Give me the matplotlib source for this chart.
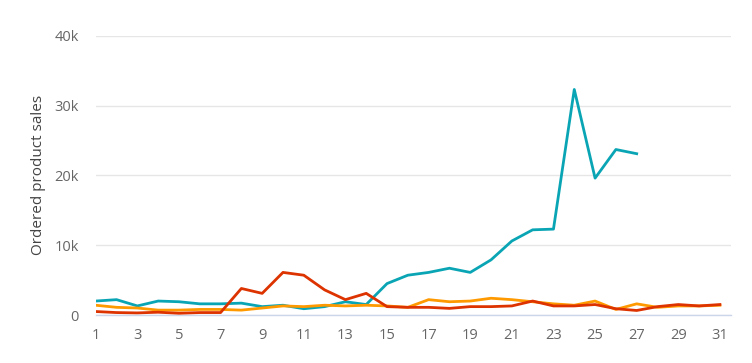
import matplotlib
matplotlib.use("Agg")
import matplotlib.pyplot as plt
from matplotlib.ticker import FuncFormatter, MultipleLocator

plt.rcParams['font.family'] = ['Open Sans', 'DejaVu Sans']

days = list(range(1, 32))
teal = [2.0, 2.2, 1.3, 2.0, 1.9, 1.6, 1.6, 1.7, 1.2, 1.4, 0.9, 1.2, 1.9, 1.5,
        4.5, 5.7, 6.1, 6.7, 6.1, 7.9, 10.6, 12.2, 12.3, 32.3, 19.6, 23.7, 23.1]
orange = [1.4, 1.1, 1.0, 0.7, 0.7, 0.8, 0.8, 0.7, 1.0, 1.3, 1.2, 1.4, 1.3, 1.4,
          1.3, 1.1, 2.2, 1.9, 2.0, 2.4, 2.2, 1.9, 1.6, 1.4, 2.0, 0.8, 1.6, 1.1,
          1.3, 1.3, 1.4]
red = [0.5, 0.35, 0.3, 0.4, 0.25, 0.35, 0.35, 3.8, 3.1, 6.1, 5.7, 3.6, 2.2, 3.1,
       1.2, 1.1, 1.1, 0.95, 1.2, 1.2, 1.3, 2.0, 1.3, 1.3, 1.5, 0.9, 0.65, 1.2,
       1.5, 1.3, 1.5]
xticks = list(range(1, 32, 2))

fig = plt.figure(figsize=(7.52, 3.63), dpi=100)
ax = fig.add_axes([0.1273, 0.1322, 0.972 - 0.1273, 0.9017 - 0.1322])

lw = 2.0
ax.plot(days[:len(teal)], [v * 1000 for v in teal], color='#0aa5b5', lw=lw, zorder=3)
ax.plot(days, [v * 1000 for v in orange], color='#ff9900', lw=lw, zorder=4)
ax.plot(days, [v * 1000 for v in red], color='#dd3300', lw=lw, zorder=5)

ax.set_xlim(1, 31.53)
ax.set_ylim(0, 40000)
ax.set_xticks(xticks)
ax.yaxis.set_major_locator(MultipleLocator(10000))
ax.yaxis.set_major_formatter(FuncFormatter(lambda v, p: '0' if v == 0 else f'{int(v/1000)}k'))

for s in ['top', 'right', 'left']:
    ax.spines[s].set_visible(False)
ax.spines['bottom'].set_color('#ccd6eb')
ax.spines['bottom'].set_linewidth(1.0)
ax.grid(axis='y', color='#e6e6e6', lw=1.0, zorder=0)
ax.set_axisbelow(True)
ax.tick_params(axis='both', length=0, labelsize=10.5, labelcolor='#666666')
ax.tick_params(axis='y', pad=12)
ax.tick_params(axis='x', pad=9)
ax.set_ylabel('Ordered product sales', fontsize=11, color='#444444', labelpad=6)

fig.savefig('out.png', dpi=100)
